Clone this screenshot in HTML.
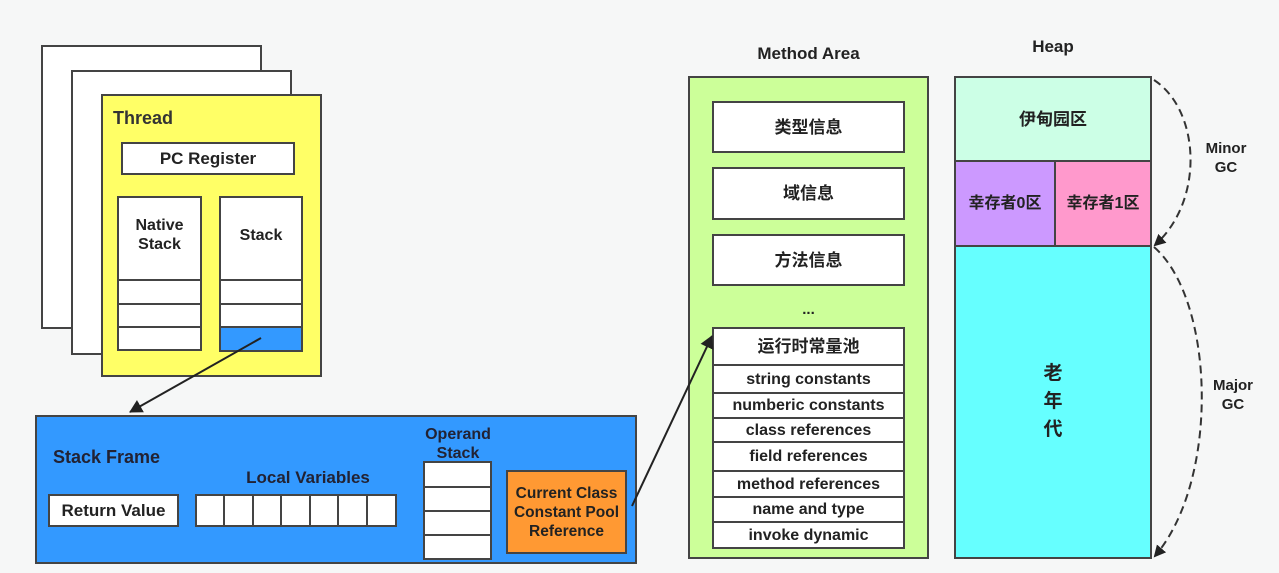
<!DOCTYPE html><html><head><meta charset="utf-8"><style>
body{margin:0;width:1279px;height:573px;background:#f6f7f7;overflow:hidden;font-family:"Liberation Sans","Noto Sans CJK SC",sans-serif;}
.b{position:absolute;box-sizing:border-box;border:2px solid #444;display:flex;align-items:center;justify-content:center;text-align:center;font-weight:bold;font-size:16px;color:#222;background:#fff;line-height:19px;white-space:nowrap}
.t{position:absolute;font-weight:bold;color:#222;text-align:center;line-height:19px}
</style></head><body>
<div class="b" style="left:41px;top:45px;width:221px;height:284px"></div>
<div class="b" style="left:71px;top:70px;width:221px;height:285px"></div>
<div class="b" style="left:101px;top:94px;width:221px;height:283px;background:#ffff66"></div>
<div class="t" style="left:113px;top:109px;font-size:18px;color:#333">Thread</div>
<div class="b" style="left:121px;top:142px;width:174px;height:33px;font-size:17px">PC Register</div>
<div class="b" style="left:117px;top:196px;width:85px;height:85px;align-items:flex-start;padding-top:18px">Native<br>Stack</div>
<div class="b" style="left:117px;top:279px;width:85px;height:26px"></div>
<div class="b" style="left:117px;top:303px;width:85px;height:25px"></div>
<div class="b" style="left:117px;top:326px;width:85px;height:25px"></div>
<div class="b" style="left:219px;top:196px;width:84px;height:85px;align-items:flex-start;padding-top:28px">Stack</div>
<div class="b" style="left:219px;top:279px;width:84px;height:26px"></div>
<div class="b" style="left:219px;top:303px;width:84px;height:25px"></div>
<div class="b" style="left:219px;top:326px;width:84px;height:26px;background:#3399ff"></div>

<div class="b" style="left:35px;top:415px;width:602px;height:149px;background:#3399ff"></div>
<div class="t" style="left:53px;top:448px;font-size:18px;color:#223">Stack Frame</div>
<div class="t" style="left:195px;top:468px;width:226px;font-size:17px;color:#223">Local Variables</div>
<div class="t" style="left:415px;top:425px;width:86px;font-size:16px;color:#223">Operand<br>Stack</div>
<div class="b" style="left:48px;top:494px;width:131px;height:33px;font-size:17px">Return Value</div>
<div class="b" style="left:195px;top:494px;width:30px;height:33px"></div>
<div class="b" style="left:223px;top:494px;width:31px;height:33px"></div>
<div class="b" style="left:252px;top:494px;width:30px;height:33px"></div>
<div class="b" style="left:280px;top:494px;width:31px;height:33px"></div>
<div class="b" style="left:309px;top:494px;width:30px;height:33px"></div>
<div class="b" style="left:337px;top:494px;width:31px;height:33px"></div>
<div class="b" style="left:366px;top:494px;width:31px;height:33px"></div>
<div class="b" style="left:423px;top:461px;width:69px;height:27px"></div>
<div class="b" style="left:423px;top:486px;width:69px;height:26px"></div>
<div class="b" style="left:423px;top:510px;width:69px;height:26px"></div>
<div class="b" style="left:423px;top:534px;width:69px;height:26px"></div>
<div class="b" style="left:506px;top:470px;width:121px;height:84px;background:#ff9933;font-size:15.5px">Current Class<br>Constant Pool<br>Reference</div>

<div class="t" style="left:688px;top:44px;width:241px;font-size:17px">Method Area</div>
<div class="b" style="left:688px;top:76px;width:241px;height:483px;background:#ccff99"></div>
<div class="b" style="left:712px;top:101px;width:193px;height:52px;font-size:17px">类型信息</div>
<div class="b" style="left:712px;top:167px;width:193px;height:53px;font-size:17px">域信息</div>
<div class="b" style="left:712px;top:234px;width:193px;height:52px;font-size:17px">方法信息</div>
<div class="t" style="left:712px;top:300px;width:193px;font-size:15px">...</div>
<div class="b" style="left:712px;top:327px;width:193px;height:39px;font-size:17px">运行时常量池</div>
<div class="b" style="left:712px;top:364px;width:193px;height:30px">string constants</div>
<div class="b" style="left:712px;top:392px;width:193px;height:27px">numberic constants</div>
<div class="b" style="left:712px;top:417px;width:193px;height:26px">class references</div>
<div class="b" style="left:712px;top:441px;width:193px;height:31px">field references</div>
<div class="b" style="left:712px;top:470px;width:193px;height:28px">method references</div>
<div class="b" style="left:712px;top:496px;width:193px;height:27px">name and type</div>
<div class="b" style="left:712px;top:521px;width:193px;height:28px">invoke dynamic</div>

<div class="t" style="left:954px;top:37px;width:198px;font-size:17px">Heap</div>
<div class="b" style="left:954px;top:76px;width:198px;height:86px;background:#ccffe6;font-size:17px">伊甸园区</div>
<div class="b" style="left:954px;top:160px;width:102px;height:87px;background:#cc99ff">幸存者0区</div>
<div class="b" style="left:1054px;top:160px;width:98px;height:87px;background:#ff99cc">幸存者1区</div>
<div class="b" style="left:954px;top:245px;width:198px;height:314px;background:#66ffff;font-size:19px;line-height:28px">老<br>年<br>代</div>
<div class="t" style="left:1200px;top:139px;width:52px;font-size:15px">Minor<br>GC</div>
<div class="t" style="left:1207px;top:376px;width:52px;font-size:15px">Major<br>GC</div>

<svg width="1279" height="573" style="position:absolute;left:0;top:0" xmlns="http://www.w3.org/2000/svg">
<defs><marker id="a" markerWidth="12" markerHeight="12" refX="10" refY="6" orient="auto" markerUnits="userSpaceOnUse"><path d="M0,0 L12,6 L0,12 z" fill="#222"/></marker>
<marker id="d" markerWidth="14" markerHeight="14" refX="12" refY="7" orient="auto" markerUnits="userSpaceOnUse"><path d="M0,0 L13,7 L0,14 z" fill="#222"/></marker></defs>
<line x1="261" y1="338" x2="130" y2="412" stroke="#222" stroke-width="2" marker-end="url(#d)"/>
<line x1="632" y1="506" x2="712" y2="336" stroke="#222" stroke-width="2" marker-end="url(#d)"/>
<path d="M1154,80 C1200,110 1205,200 1155,245" fill="none" stroke="#333" stroke-width="2" stroke-dasharray="8,5" marker-end="url(#a)"/>
<path d="M1154,247 C1215,300 1220,480 1155,556" fill="none" stroke="#333" stroke-width="2" stroke-dasharray="8,5" marker-end="url(#a)"/>
</svg>
</body></html>
